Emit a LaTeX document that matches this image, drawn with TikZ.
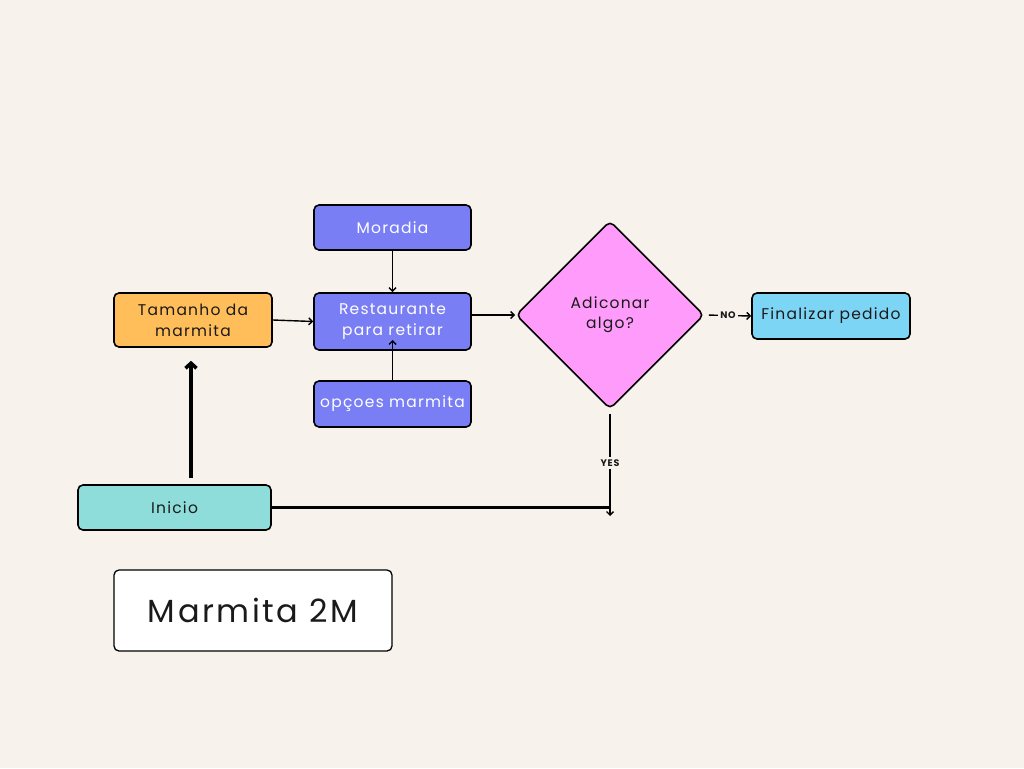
\documentclass[tikz,border=0pt]{standalone}
\usepackage{fontspec}
\setmainfont{Poppins}[LetterSpace=8]
\usetikzlibrary{arrows.meta,shapes.geometric,calc}
\definecolor{bg}{HTML}{F7F3EC}
\definecolor{violet}{HTML}{7A7EF5}
\definecolor{orangebox}{HTML}{FFBE5A}
\definecolor{pinkbox}{HTML}{FF9BFB}
\definecolor{bluebox}{HTML}{7DD5F6}
\definecolor{tealbox}{HTML}{8EDDDB}
\definecolor{ink}{HTML}{1A1A1A}
\tikzset{
  box/.style={draw=black, line width=1.6pt, rounded corners=5pt, align=center,
    inner sep=0pt, font=\fontsize{15.5}{21}\selectfont, text=ink},
  vbox/.style={box, fill=violet, text=white, minimum width=157pt},
  thinarrow/.style={line width=1.4pt, -{Straight Barb[length=3.5pt,width=7pt]}},
  thickarrow/.style={line width=3.6pt, -{Straight Barb[length=5pt,width=11pt]}},
  lbl/.style={fill=bg, inner sep=2.5pt, font=\fontsize{9.5}{11}\selectfont\bfseries, text=ink}
}
\begin{document}
\begin{tikzpicture}[x=1pt,y=-1pt]
\fill[bg] (0,0) rectangle (1024,768);
\useasboundingbox (0,0) rectangle (1024,768);

\node[vbox, minimum height=45pt] (mor) at (392.5,227.5) {Moradia};
\node[vbox, minimum height=57pt] (rest) at (392.5,321.5) {Restaurante\\para retirar};
\node[vbox, minimum height=46pt] (opc) at (392.5,404) {opçoes marmita};
\node[box, fill=orangebox, minimum width=158pt, minimum height=54pt] (tam) at (193,320) {Tamanho da\\marmita};
\node[draw=black, line width=1.6pt, fill=pinkbox, diamond, aspect=1, minimum width=188pt, minimum height=188pt,
  rounded corners=5pt, inner sep=0pt, align=center, font=\fontsize{15.5}{20}\selectfont, text=ink] (dia) at (610,315) {Adiconar\\algo?};
\node[box, fill=bluebox, minimum width=158pt, minimum height=46pt] (fin) at (831,316) {Finalizar pedido};
\node[box, fill=tealbox, minimum width=193pt, minimum height=45pt] (ini) at (174.5,507.5) {Inicio};
\node[box, fill=white, line width=1.3pt, minimum width=278pt, minimum height=81pt,
  font=\fontsize{32}{38}\selectfont] (title) at (253,610.5) {Marmita 2M};

\coordinate (rin) at (392.5,340);
\coordinate (yesend) at (610,516);
\coordinate (joint) at (610,507.5);
\coordinate (upstart) at (191,478);

\draw[thinarrow] (mor.south) -- (rest.north);
\draw[thinarrow] (opc.north) -- (rin);
\draw[thinarrow] (tam.east) -- (rest.west);
\draw[thinarrow] (rest.east |- dia.west) -- (dia.west);
\draw[thinarrow, shorten <=4pt] (dia.east) -- node[lbl] {NO} (fin.west);
\draw[thinarrow, shorten <=4pt] (dia.south) -- node[lbl] {YES} (yesend);
\draw[line width=3.6pt] (ini.east) -- (joint);
\draw[thickarrow, shorten >=13pt] (upstart) -- (upstart |- tam.south);
\end{tikzpicture}
\end{document}
